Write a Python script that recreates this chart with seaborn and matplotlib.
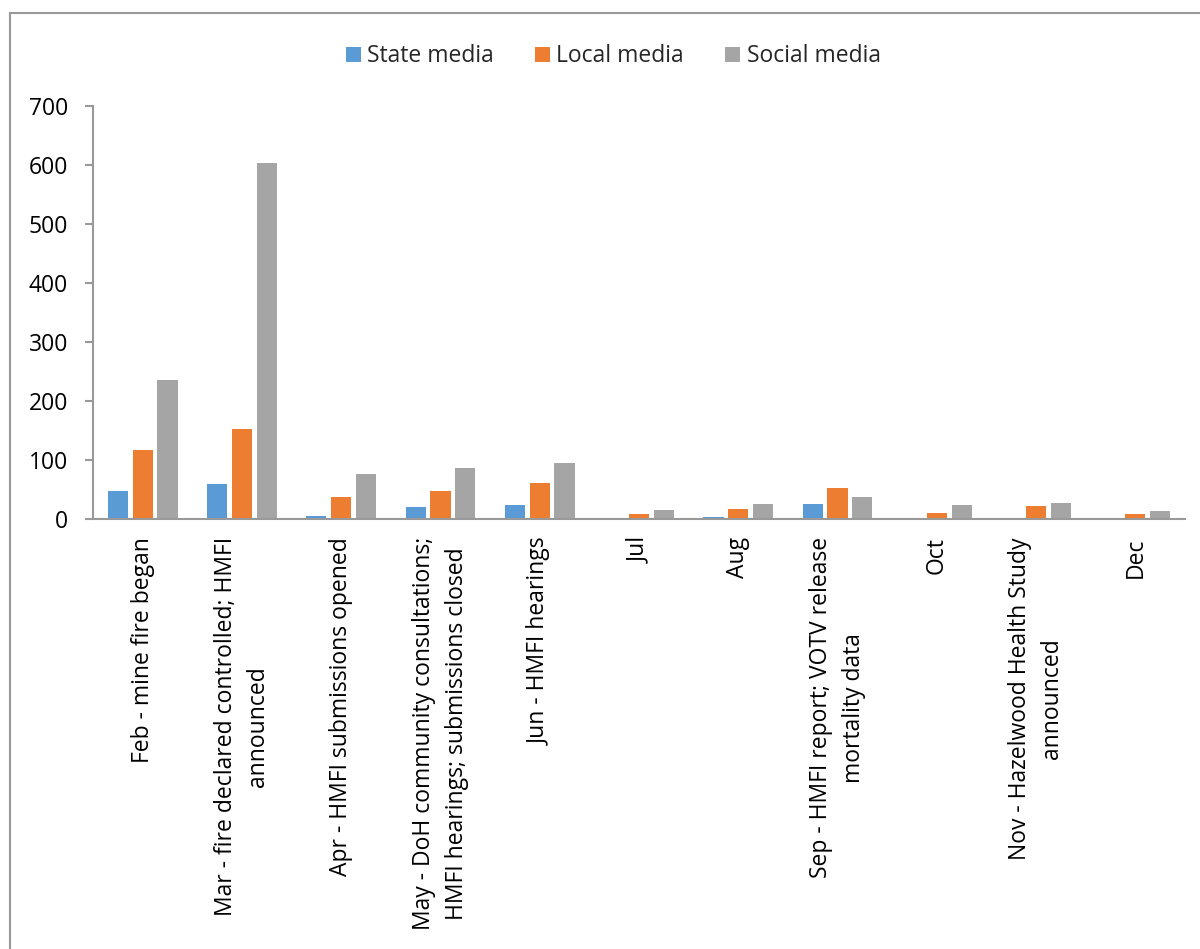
import matplotlib
matplotlib.use("Agg")
import matplotlib.pyplot as plt
import seaborn as sns
import pandas as pd
from matplotlib.lines import Line2D

categories = [
    "Feb - mine fire began",
    "Mar - fire declared controlled; HMFI\nannounced",
    "Apr - HMFI submissions opened",
    "May - DoH community consultations;\nHMFI hearings; submissions closed",
    "Jun - HMFI hearings",
    "Jul",
    "Aug",
    "Sep - HMFI report; VOTV release\nmortality data",
    "Oct",
    "Nov - Hazelwood Health Study\nannounced",
    "Dec",
]
series_names = ["State media", "Local media", "Social media"]
state_media = [47, 59, 5, 20, 24, 0, 3, 26, 2, 1, 0]
local_media = [118, 153, 37, 48, 61, 9, 17, 52, 11, 22, 8]
social_media = [236, 604, 77, 86, 95, 16, 25, 38, 24, 28, 13]
y_ticks = [0, 100, 200, 300, 400, 500, 600, 700]
colors = ["#5B9BD5", "#ED7D31", "#A5A5A5"]

rows = []
for name, vals in zip(series_names, [state_media, local_media, social_media]):
    for c, v in zip(categories, vals):
        rows.append({"Month": c, "Series": name, "Value": v})
df = pd.DataFrame(rows)

sns.set_theme(style="white")
plt.rcParams["font.family"] = ["Open Sans", "DejaVu Sans"]
FS = 16.5

fig = plt.figure(figsize=(12, 9.49), dpi=100)
ax = fig.add_axes([0.0775, 0.453, 0.91, 0.435])

sns.barplot(data=df, x="Month", y="Value", hue="Series", order=categories,
            hue_order=series_names, palette=colors, width=0.75, gap=0.19,
            saturation=1, ax=ax, linewidth=0)

ax.set_ylim(0, 700)
ax.set_xlim(-0.5, len(categories) - 0.5)
ax.set_yticks(y_ticks)
ax.set_yticklabels([str(t) for t in y_ticks], fontsize=FS, color="black")
ax.set_xlabel("")
ax.set_ylabel("")
ax.set_xticks(range(len(categories)))
ax.set_xticklabels(categories, rotation=90, fontsize=FS, ha="center", va="top",
                   multialignment="center", linespacing=1.45, color="black")

for s in ["top", "right"]:
    ax.spines[s].set_visible(False)
for s in ["left", "bottom"]:
    ax.spines[s].set_color("#999999")
    ax.spines[s].set_linewidth(1.5)
ax.tick_params(axis="y", which="major", length=6, width=1.5, color="#999999",
               direction="out", left=True, pad=12)
ax.tick_params(axis="x", length=0, pad=13)

sns.move_legend(ax, "upper center", bbox_to_anchor=(0.511, 0.975),
                bbox_transform=fig.transFigure, ncol=3, frameon=False,
                title=None, fontsize=FS, handlelength=0.65, handleheight=0.65,
                handletextpad=0.28, columnspacing=1.8)

fig.add_artist(Line2D([0.008, 1.0], [1 - 12.5 / 949, 1 - 12.5 / 949],
                      transform=fig.transFigure, color="#999999", linewidth=1.5))
fig.add_artist(Line2D([0.008, 0.008], [0.0, 1 - 12.5 / 949],
                      transform=fig.transFigure, color="#999999", linewidth=1.5))

fig.savefig("out.png", dpi=100)
